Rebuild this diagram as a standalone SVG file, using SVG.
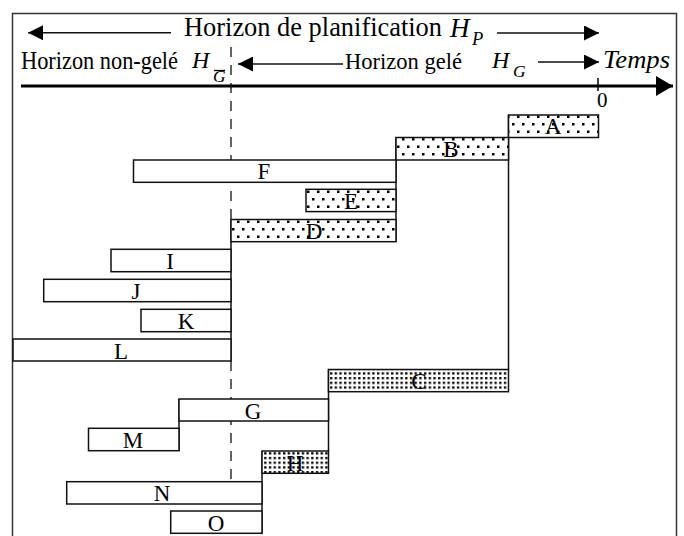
<svg xmlns="http://www.w3.org/2000/svg" width="684" height="536" viewBox="0 0 684 536" font-family="Liberation Serif, Times New Roman, serif">
<style>
.t{fill:#000}
.i{font-style:italic}
.box{stroke:#111;stroke-width:1.5}
.w{fill:#fff}
.s{fill:url(#sparse)}
.d{fill:url(#dense)}
.ln{stroke:#111;stroke-width:1.5;fill:none}
.lbl{font-size:23px;text-anchor:middle;fill:#000}
</style>
<defs>
<pattern id="sparse" patternUnits="userSpaceOnUse" width="10" height="15">
<rect width="10" height="15" fill="#fff"/>
<rect x="2" y="3" width="2.5" height="2.5" fill="#000"/>
<rect x="7" y="10.5" width="2.5" height="2.5" fill="#000"/>
</pattern>
<pattern id="dense" patternUnits="userSpaceOnUse" width="4.7" height="4.7">
<rect width="4.7" height="4.7" fill="#fff"/>
<rect x="1" y="1" width="2.3" height="2.3" fill="#000"/>
</pattern>
<marker id="ah" viewBox="0 0 15 15" refX="15" refY="7.5" markerWidth="15" markerHeight="15" markerUnits="userSpaceOnUse" orient="auto">
<path d="M0,0 L15,7.5 L0,15 Z" fill="#000"/>
</marker>
<marker id="ahb" viewBox="0 0 17 20" refX="17" refY="10" markerWidth="17" markerHeight="20" markerUnits="userSpaceOnUse" orient="auto">
<path d="M0,0 L17,10 L0,20 Z" fill="#000"/>
</marker>
</defs>
<rect width="684" height="536" fill="#fff"/>
<rect x="12.5" y="13.5" width="664" height="540" fill="none" stroke="#333" stroke-width="1.5"/>

<g id="header">
<text class="t" x="184" y="36" font-size="27.5" textLength="258" lengthAdjust="spacingAndGlyphs">Horizon de planification</text>
<text class="t i" x="450" y="36.5" font-size="27">H</text>
<text class="t i" x="472" y="45" font-size="18.5">P</text>
<text class="t" x="21" y="69" font-size="24.5" textLength="157" lengthAdjust="spacingAndGlyphs">Horizon non-gelé</text>
<text class="t i" x="192" y="68" font-size="24">H</text>
<text class="t i" x="213" y="82" font-size="17.5">G</text>
<line x1="214" y1="70.5" x2="225" y2="70.5" stroke="#000" stroke-width="1.3"/>
<text class="t" x="345" y="68.5" font-size="24" textLength="117" lengthAdjust="spacingAndGlyphs">Horizon gelé</text>
<text class="t i" x="492" y="68" font-size="24">H</text>
<text class="t i" x="513" y="77" font-size="17.5">G</text>
<text class="t i" x="603" y="68" font-size="25" textLength="67" lengthAdjust="spacingAndGlyphs">Temps</text>
<text class="t" x="597" y="107" font-size="21">0</text>
</g>

<g id="connectors">
<line class="ln" x1="171" y1="32.7" x2="28" y2="32.7" marker-end="url(#ah)"/>
<line class="ln" x1="497" y1="33" x2="599" y2="33" marker-end="url(#ah)"/>
<line class="ln" x1="343" y1="64" x2="238" y2="64" marker-end="url(#ah)"/>
<line class="ln" x1="538" y1="62" x2="599" y2="62" marker-end="url(#ah)"/>
<line x1="21" y1="86" x2="673" y2="86" stroke="#000" stroke-width="3" marker-end="url(#ahb)"/>
<line x1="598" y1="78" x2="598" y2="91" stroke="#000" stroke-width="1.5"/>
<line x1="231" y1="47" x2="231" y2="219" stroke="#111" stroke-width="1.3" stroke-dasharray="10,8"/>
<line x1="231" y1="361" x2="231" y2="479" stroke="#111" stroke-width="1.3" stroke-dasharray="10,8"/>
<line class="ln" x1="508.5" y1="115" x2="508.5" y2="369.5"/>
<line class="ln" x1="396" y1="137.5" x2="396" y2="241.5"/>
<line class="ln" x1="231" y1="219.5" x2="231" y2="361"/>
<line class="ln" x1="328.5" y1="369.5" x2="328.5" y2="451"/>
<line class="ln" x1="179" y1="399" x2="179" y2="451"/>
<line class="ln" x1="262" y1="451" x2="262" y2="533.5"/>
</g>

<g id="A"><rect class="box s" x="508.5" y="115" width="90" height="22.5"/><text class="lbl" x="553" y="134">A</text></g>
<g id="B"><rect class="box s" x="396" y="137.5" width="112.5" height="22.5"/><text class="lbl" x="451" y="157">B</text></g>
<g id="F"><rect class="box w" x="133.5" y="160" width="262.5" height="22.3"/><text class="lbl" x="264" y="179">F</text></g>
<g id="E"><rect class="box s" x="306" y="189.3" width="90" height="22.3"/><text class="lbl" x="351" y="209">E</text></g>
<g id="D"><rect class="box s" x="231" y="219.5" width="165" height="22.2"/><text class="lbl" x="314" y="239">D</text></g>
<g id="I"><rect class="box w" x="111" y="249.3" width="120" height="22.4"/><text class="lbl" x="170" y="269">I</text></g>
<g id="J"><rect class="box w" x="43.7" y="279.3" width="187.3" height="22.4"/><text class="lbl" x="136" y="299">J</text></g>
<g id="K"><rect class="box w" x="141" y="309.3" width="90" height="22.4"/><text class="lbl" x="186" y="329">K</text></g>
<g id="L"><rect class="box w" x="13" y="339" width="218" height="22"/><text class="lbl" x="121" y="359">L</text></g>
<g id="C"><rect class="box d" x="328.5" y="369.5" width="180" height="22.2"/><text class="lbl" x="419" y="389">C</text></g>
<g id="G"><rect class="box w" x="179" y="399" width="149.5" height="22"/><text class="lbl" x="253" y="419">G</text></g>
<g id="M"><rect class="box w" x="88.5" y="428.3" width="90.5" height="22.4"/><text class="lbl" x="133" y="448">M</text></g>
<g id="H"><rect class="box d" x="262" y="451" width="66.5" height="22.3"/><text class="lbl" x="295" y="471">H</text></g>
<g id="N"><rect class="box w" x="66.7" y="481.7" width="195.3" height="22.3"/><text class="lbl" x="162" y="501">N</text></g>
<g id="O"><rect class="box w" x="170.7" y="511" width="91.3" height="22.3"/><text class="lbl" x="216" y="531">O</text></g>
</svg>
